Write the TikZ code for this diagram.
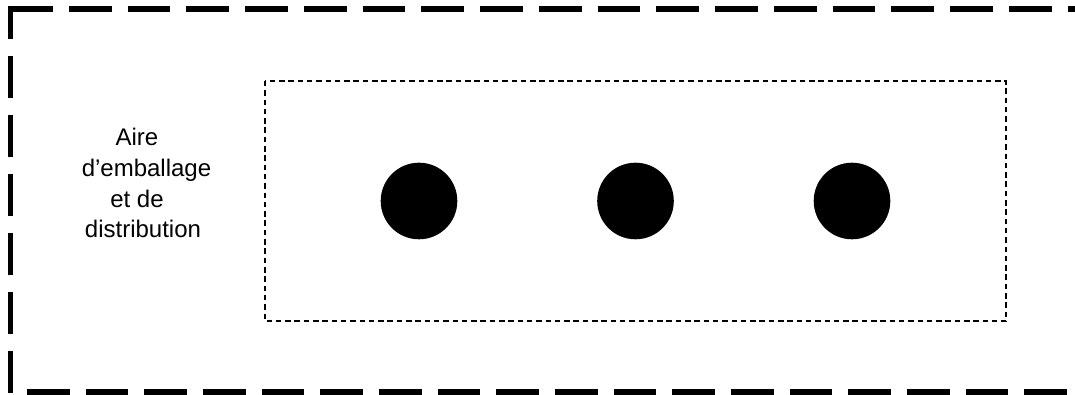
\documentclass[tikz,border=0pt]{standalone}
\usepackage{fontspec}
\setmainfont{Liberation Sans}
\begin{document}
\begin{tikzpicture}[x=1pt,y=-1pt,
  outerline/.style={line width=5.5pt, line cap=butt},
  innerbox/.style={draw, line width=1.8pt, dash pattern=on 5.5pt off 3.8pt},
  dot/.style={circle, fill=black, draw=none, minimum size=76.6pt, inner sep=0pt},
  label/.style={anchor=base, font=\fontsize{24}{30}\selectfont, inner sep=0pt}]
\useasboundingbox (0,0) rectangle (1075,395);
\clip (0,0) rectangle (1075,395);
% outer dashed frame (open on the right)
\coordinate (tl) at (10,9);
\coordinate (tr) at (1090,9);
\coordinate (lb) at (10.8,393);
\coordinate (lt) at (10.8,6.3);
\coordinate (bl) at (27,392);
\coordinate (br) at (1090,392);
\draw[outerline, dash pattern=on 42.75pt off 16pt] (tl) -- (tr);
\draw[outerline, line width=5pt, dash pattern=on 42pt off 17pt] (lb) -- (lt);
\draw[outerline, dash pattern=on 42.5pt off 16.17pt] (bl) -- (br);
% inner dashed area
\draw[innerbox] (265,81) rectangle (1006.3,321.3);
% dots
\node[dot] (c1) at (419,201) {};
\node[dot] (c2) at (635.5,201) {};
\node[dot] (c3) at (852,201) {};
% label
\node[label] (l1) at (137,146) {Aire};
\node[label] (l2) at (146.5,177) {d’emballage};
\node[label] (l3) at (137,207.5) {et de};
\node[label] (l4) at (143,237.5) {distribution};
\end{tikzpicture}
\end{document}
